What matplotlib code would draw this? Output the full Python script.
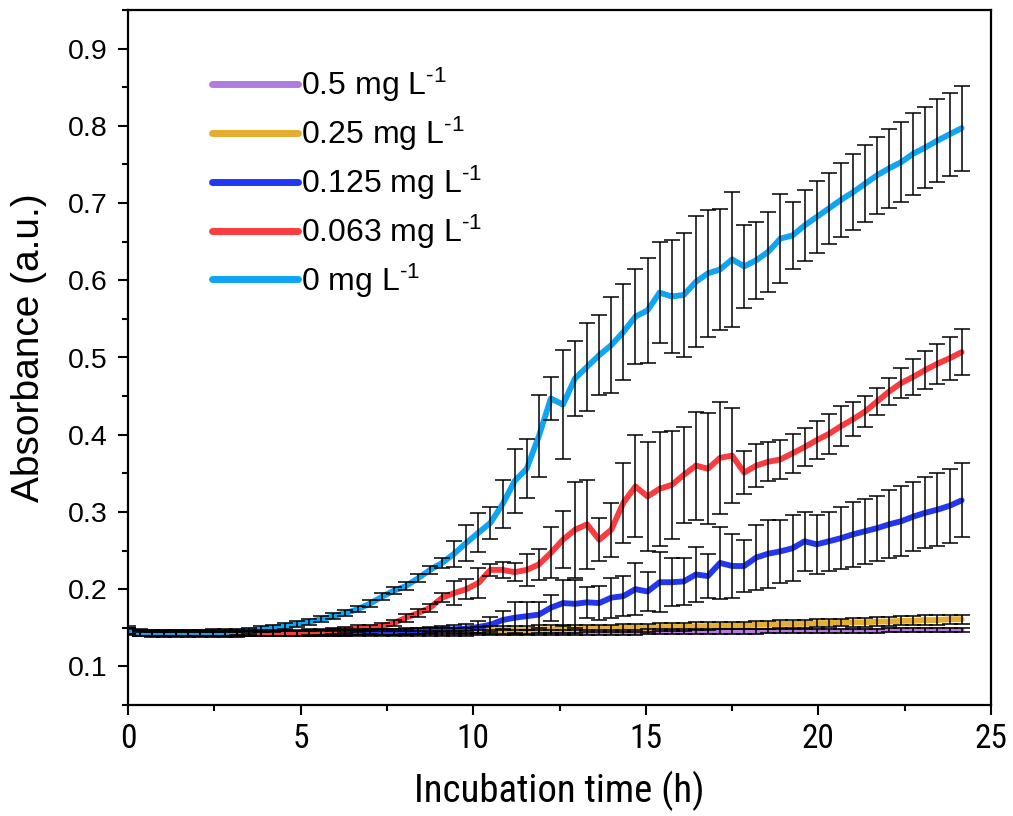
import numpy as np
import matplotlib
matplotlib.use("Agg")
import matplotlib.pyplot as plt
from matplotlib import font_manager
from matplotlib.font_manager import FontProperties
from matplotlib.ticker import MultipleLocator

# ---------------- data ----------------
n_points = 70
interval_h = 0.35
time_h = np.arange(n_points) * interval_h

labels = ["0.5 mg L$^{\\text{-}1}$", "0.25 mg L$^{\\text{-}1}$", "0.125 mg L$^{\\text{-}1}$",
          "0.063 mg L$^{\\text{-}1}$", "0 mg L$^{\\text{-}1}$"]
colors = ["#b07ddc", "#e5ae2e", "#2237f0", "#fb3b3e", "#0ea5f5"]

c0_5 = [0.146, 0.143, 0.143, 0.143, 0.143, 0.143, 0.143, 0.143, 0.143, 0.143,
        0.143, 0.143, 0.143, 0.143, 0.143, 0.143, 0.143, 0.143, 0.143, 0.143,
        0.143, 0.143, 0.143, 0.143, 0.143, 0.143, 0.143, 0.143, 0.143, 0.144,
        0.144, 0.144, 0.144, 0.144, 0.144, 0.144, 0.144, 0.144, 0.144, 0.144,
        0.144, 0.144, 0.144, 0.145, 0.145, 0.145, 0.145, 0.145, 0.145, 0.145,
        0.145, 0.145, 0.145, 0.146, 0.146, 0.146, 0.146, 0.146, 0.146, 0.146,
        0.146, 0.146, 0.146, 0.147, 0.147, 0.147, 0.147, 0.147, 0.147, 0.147]
c0_5_err = [0.004] + [0.003] * 69

c0_25 = [0.146, 0.143, 0.143, 0.143, 0.143, 0.143, 0.143, 0.143, 0.143, 0.143,
         0.143, 0.143, 0.143, 0.143, 0.143, 0.144, 0.144, 0.144, 0.144, 0.145,
         0.145, 0.145, 0.145, 0.145, 0.146, 0.146, 0.146, 0.146, 0.146, 0.147,
         0.147, 0.147, 0.147, 0.147, 0.148, 0.148, 0.148, 0.148, 0.149, 0.149,
         0.149, 0.150, 0.150, 0.150, 0.151, 0.151, 0.151, 0.152, 0.152, 0.153,
         0.153, 0.153, 0.154, 0.154, 0.155, 0.155, 0.155, 0.156, 0.156, 0.157,
         0.157, 0.157, 0.158, 0.158, 0.159, 0.159, 0.160, 0.160, 0.161, 0.161]
c0_25_err = [0.004] * 30 + [0.005] * 30 + [0.006] * 10

c0_125 = [0.146, 0.143, 0.142, 0.142, 0.142, 0.142, 0.142, 0.142, 0.142, 0.142,
          0.143, 0.143, 0.143, 0.143, 0.143, 0.143, 0.144, 0.144, 0.144, 0.144,
          0.145, 0.145, 0.145, 0.146, 0.146, 0.147, 0.148, 0.148, 0.149, 0.151,
          0.154, 0.160, 0.163, 0.165, 0.167, 0.176, 0.182, 0.181, 0.183, 0.182,
          0.189, 0.191, 0.200, 0.197, 0.209, 0.209, 0.210, 0.219, 0.217, 0.234,
          0.230, 0.230, 0.241, 0.246, 0.249, 0.253, 0.262, 0.258, 0.262, 0.266,
          0.271, 0.275, 0.279, 0.284, 0.288, 0.294, 0.299, 0.303, 0.308, 0.315]
c0_125_err = [0.004, 0.003, 0.003, 0.003, 0.003, 0.003, 0.003, 0.003, 0.003, 0.003,
              0.003, 0.003, 0.003, 0.003, 0.003, 0.003, 0.003, 0.003, 0.003, 0.003,
              0.003, 0.004, 0.004, 0.004, 0.004, 0.004, 0.004, 0.005, 0.006, 0.008,
              0.010, 0.012, 0.020, 0.018, 0.017, 0.017, 0.030, 0.031, 0.020, 0.022,
              0.026, 0.026, 0.034, 0.025, 0.039, 0.031, 0.030, 0.036, 0.029, 0.047,
              0.042, 0.034, 0.042, 0.044, 0.041, 0.043, 0.038, 0.038, 0.038, 0.040,
              0.042, 0.042, 0.042, 0.044, 0.045, 0.045, 0.046, 0.047, 0.048, 0.048]

c0_063 = [0.145, 0.142, 0.141, 0.141, 0.141, 0.141, 0.141, 0.141, 0.141, 0.141,
          0.142, 0.142, 0.142, 0.143, 0.143, 0.144, 0.144, 0.146, 0.147, 0.149,
          0.150, 0.152, 0.156, 0.163, 0.169, 0.176, 0.189, 0.195, 0.200, 0.208,
          0.225, 0.225, 0.222, 0.225, 0.232, 0.247, 0.264, 0.277, 0.284, 0.264,
          0.277, 0.312, 0.333, 0.320, 0.330, 0.335, 0.348, 0.360, 0.356, 0.370,
          0.373, 0.351, 0.360, 0.365, 0.368, 0.376, 0.384, 0.393, 0.401, 0.411,
          0.420, 0.430, 0.443, 0.456, 0.467, 0.475, 0.484, 0.492, 0.499, 0.507]
c0_063_err = [0.004, 0.003, 0.003, 0.003, 0.003, 0.003, 0.003, 0.003, 0.003, 0.003,
              0.003, 0.003, 0.003, 0.003, 0.003, 0.003, 0.003, 0.004, 0.004, 0.004,
              0.004, 0.004, 0.004, 0.005, 0.005, 0.005, 0.006, 0.015, 0.013, 0.020,
              0.008, 0.010, 0.012, 0.021, 0.020, 0.033, 0.037, 0.062, 0.058, 0.028,
              0.035, 0.052, 0.066, 0.071, 0.074, 0.070, 0.062, 0.070, 0.072, 0.073,
              0.061, 0.028, 0.028, 0.025, 0.025, 0.025, 0.025, 0.025, 0.026, 0.026,
              0.022, 0.020, 0.017, 0.018, 0.020, 0.023, 0.025, 0.026, 0.028, 0.030]

c0 = [0.147, 0.144, 0.143, 0.143, 0.143, 0.143, 0.143, 0.144, 0.144, 0.145,
      0.146, 0.148, 0.150, 0.152, 0.155, 0.158, 0.161, 0.165, 0.169, 0.174,
      0.181, 0.190, 0.198, 0.204, 0.214, 0.225, 0.234, 0.246, 0.260, 0.273,
      0.286, 0.310, 0.340, 0.356, 0.398, 0.447, 0.439, 0.473, 0.488, 0.503,
      0.516, 0.533, 0.553, 0.561, 0.584, 0.579, 0.581, 0.598, 0.609, 0.614,
      0.627, 0.618, 0.626, 0.637, 0.654, 0.658, 0.671, 0.682, 0.693, 0.704,
      0.714, 0.725, 0.736, 0.745, 0.753, 0.764, 0.772, 0.781, 0.789, 0.797]
c0_err = [0.005, 0.004, 0.004, 0.004, 0.004, 0.004, 0.004, 0.004, 0.004, 0.004,
          0.004, 0.004, 0.004, 0.004, 0.004, 0.004, 0.004, 0.004, 0.004, 0.004,
          0.0045, 0.0045, 0.0045, 0.005, 0.005, 0.005, 0.0065, 0.017, 0.023, 0.025,
          0.021, 0.031, 0.041, 0.038, 0.053, 0.028, 0.071, 0.0485, 0.057, 0.052,
          0.0625, 0.0625, 0.062, 0.068, 0.065, 0.073, 0.080, 0.085, 0.0825, 0.078,
          0.087, 0.054, 0.050, 0.052, 0.0575, 0.043, 0.046, 0.0465, 0.0465, 0.048,
          0.049, 0.050, 0.050, 0.051, 0.052, 0.053, 0.053, 0.054, 0.054, 0.055]

series = [c0_5, c0_25, c0_125, c0_063, c0]
errors = [c0_5_err, c0_25_err, c0_125_err, c0_063_err, c0_err]

# ---------------- fonts ----------------
def has_font(name):
    try:
        font_manager.findfont(FontProperties(family=name), fallback_to_default=False)
        return True
    except Exception:
        return False

main_font = "Liberation Sans" if has_font("Liberation Sans") else "DejaVu Sans"


def pick_narrow():
    for fam in ["Liberation Sans Narrow", "Arial Narrow", "Roboto Condensed"]:
        if has_font(fam):
            return FontProperties(family=fam), True
    for fam in ["Roboto", "Noto Sans", "Open Sans", "DejaVu Sans"]:
        fp = FontProperties(family=fam, stretch="condensed")
        try:
            path = font_manager.findfont(fp, fallback_to_default=False)
        except Exception:
            continue
        low = path.lower()
        if "condensed" in low or "narrow" in low:
            return fp, True
    return FontProperties(family=main_font), False


narrow_fp, is_narrow = pick_narrow()

plt.rcParams["font.family"] = [main_font, "DejaVu Sans"]
plt.rcParams["mathtext.fontset"] = "custom"
plt.rcParams["mathtext.rm"] = main_font
plt.rcParams["mathtext.it"] = main_font + ":italic"
plt.rcParams["mathtext.default"] = "regular"

# ---------------- figure ----------------
fig = plt.figure(figsize=(10.13, 8.16), dpi=100)
ax = fig.add_axes([128 / 1013, 1 - 705 / 816, (991 - 128) / 1013, (705 - 10) / 816])

handles = []
for vals, errs, col, lab in zip(series, errors, colors, labels):
    ln, = ax.plot(time_h, vals, color=col, lw=4.2, solid_capstyle="round",
                  solid_joinstyle="round", label=lab, zorder=2)
    ax.errorbar(time_h, vals, yerr=errs, fmt="none", ecolor="black",
                elinewidth=1.1, capsize=6, capthick=1.1, zorder=3)
    handles.append(ln)

ax.set_xlim(0, 25)
ax.set_ylim(0.05, 0.95)
ax.xaxis.set_major_locator(MultipleLocator(5))
ax.xaxis.set_minor_locator(MultipleLocator(2.5))
ax.yaxis.set_minor_locator(MultipleLocator(0.05))
ax.set_yticks([0.1, 0.2, 0.3, 0.4, 0.5, 0.6, 0.7, 0.8, 0.9])
ax.set_yticklabels(["0.1", "0.2", "0.3", "0.4", "0.5", "0.6", "0.7", "0.8", "0.9"])

for sp in ax.spines.values():
    sp.set_linewidth(1.6)
ax.tick_params(axis="both", which="major", direction="out", length=7, width=1.5,
               top=False, right=False)
ax.tick_params(axis="both", which="minor", direction="out", length=4, width=1.5,
               top=False, right=False)
ax.tick_params(axis="y", labelsize=20.5, pad=8)
xsize = 24 if is_narrow else 20
ax.tick_params(axis="x", labelsize=xsize, pad=6)
for lbl in ax.get_xticklabels():
    lbl.set_fontproperties(narrow_fp)
    lbl.set_fontsize(xsize)

xl = ax.set_xlabel("Incubation time (h)")
xl.set_fontproperties(narrow_fp)
xl.set_fontsize(28 if is_narrow else 26)
ax.xaxis.set_label_coords(0.5, (705 - 771) / 695)

ax.set_ylabel("Absorbance (a.u.)", fontsize=28)
ax.yaxis.set_label_coords((47 - 128) / 863, (705 - 348) / 695)

leg = ax.legend(handles=handles, loc="upper left",
                bbox_to_anchor=((212 - 128) / 863, 1 - (66 - 10) / 695),
                frameon=False, fontsize=23, handlelength=2.7, handletextpad=0.1,
                labelspacing=0.33, borderpad=0, borderaxespad=0)
for lh in leg.get_lines():
    lh.set_linewidth(5)
    lh.set_solid_capstyle("round")

fig.savefig("out.png", dpi=100)
